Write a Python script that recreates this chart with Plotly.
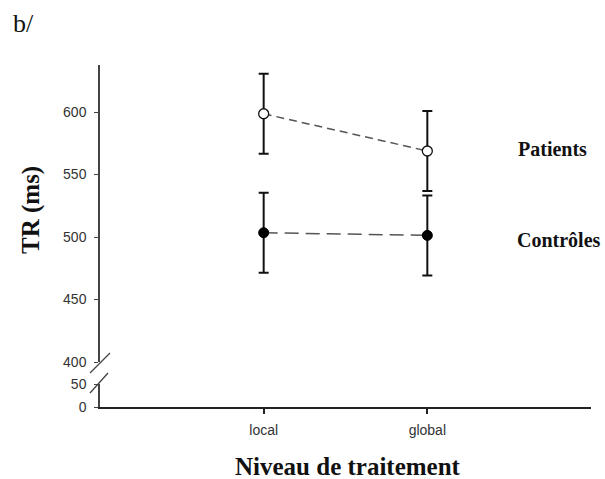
import plotly.graph_objects as go

categories = ["local", "global"]
patients_mean = [598.6, 568.8]
patients_err = [32, 32]
controles_mean = [503.4, 501.3]
controles_err = [32, 32]
upper_ticks = [400, 450, 500, 550, 600]
lower_ticks = [0, 50]

W, H = 605, 479
L, R, T, B = 100, 14, 65, 72
PH = H - T - B
PW = W - L - R

def px_x(x):
    return (x - L) / PW

def px_y(y):
    return (H - B - y) / PH

fig = go.Figure()
x_idx = [0, 1]

fig.add_trace(go.Scatter(
    x=x_idx, y=patients_mean, mode="lines+markers",
    line=dict(color="#555555", width=1.5, dash="8px,5px"),
    marker=dict(symbol="circle", size=10, color="white", line=dict(color="#111111", width=1.3)),
    error_y=dict(type="data", array=patients_err, color="#111111", thickness=2, width=5),
    showlegend=False, cliponaxis=False,
))
fig.add_trace(go.Scatter(
    x=x_idx, y=controles_mean, mode="lines+markers",
    line=dict(color="#555555", width=1.5, dash="14px,7px"),
    marker=dict(symbol="circle", size=10, color="black", line=dict(color="black", width=1)),
    error_y=dict(type="data", array=controles_err, color="#111111", thickness=2, width=5),
    showlegend=False, cliponaxis=False,
))
# empty trace so that the lower (broken) y axis segment is drawn
fig.add_trace(go.Scatter(x=[], y=[], xaxis="x", yaxis="y2", showlegend=False, hoverinfo="skip"))

tick_font = dict(family="Liberation Sans, Arial, sans-serif", size=14, color="#333333")

fig.update_layout(
    width=W, height=H,
    margin=dict(l=L, r=R, t=T, b=B, pad=0),
    paper_bgcolor="white", plot_bgcolor="white",
    xaxis=dict(
        range=[-1, 2], tickmode="array", tickvals=x_idx, ticktext=categories,
        showgrid=False, zeroline=False, showline=True, linecolor="#222222", linewidth=2,
        ticks="outside", ticklen=5, tickwidth=1.5, tickcolor="#222222",
        tickfont=tick_font, anchor="y2", ticklabelstandoff=4,
    ),
    yaxis=dict(
        domain=[px_y(362), 1], range=[400, 400 + (362 - 65) / 1.25],
        tickmode="array", tickvals=upper_ticks,
        showgrid=False, zeroline=False, showline=True, linecolor="#444444", linewidth=1.5,
        ticks="outside", ticklen=4, tickwidth=1, tickcolor="#444444",
        tickfont=tick_font, anchor="x", ticklabelstandoff=5,
    ),
    yaxis2=dict(
        domain=[0, px_y(384)], range=[0, 50],
        tickmode="array", tickvals=lower_ticks,
        showgrid=False, zeroline=False, showline=True, linecolor="#444444", linewidth=1.5,
        ticks="outside", ticklen=4, tickwidth=1, tickcolor="#444444",
        tickfont=tick_font, anchor="x", ticklabelstandoff=5,
    ),
)

# break marks on the y axis
for (x0, y0, x1, y1) in [(90, 373, 110, 353), (90, 393, 108, 373)]:
    fig.add_shape(type="line", xref="paper", yref="paper",
                  x0=px_x(x0), y0=px_y(y0), x1=px_x(x1), y1=px_y(y1),
                  line=dict(color="#444444", width=1.3))

serif = "Liberation Serif, Times New Roman, serif"
annots = [
    dict(text="<b>TR (ms)</b>", x=px_x(31), y=px_y(210), textangle=-90,
         font=dict(family=serif, size=25, color="#111111"), xanchor="center", yanchor="middle"),
    dict(text="<b>Niveau de traitement</b>", x=px_x(347.5), y=px_y(466),
         font=dict(family=serif, size=25, color="#111111"), xanchor="center", yanchor="middle"),
    dict(text="<b>Patients</b>", x=px_x(552), y=px_y(149),
         font=dict(family=serif, size=20, color="#111111"), xanchor="center", yanchor="middle"),
    dict(text="<b>Contrôles</b>", x=px_x(558.5), y=px_y(240),
         font=dict(family=serif, size=20, color="#111111"), xanchor="center", yanchor="middle"),
    dict(text="b/", x=px_x(11), y=px_y(23), xanchor="left", yanchor="middle",
         font=dict(family=serif, size=26, color="#111111")),
]
for a in annots:
    fig.add_annotation(xref="paper", yref="paper", showarrow=False, **a)

fig.write_html("out.html", config={"displayModeBar": False},
               post_script="document.body.style.margin='0';document.body.style.padding='0';")
